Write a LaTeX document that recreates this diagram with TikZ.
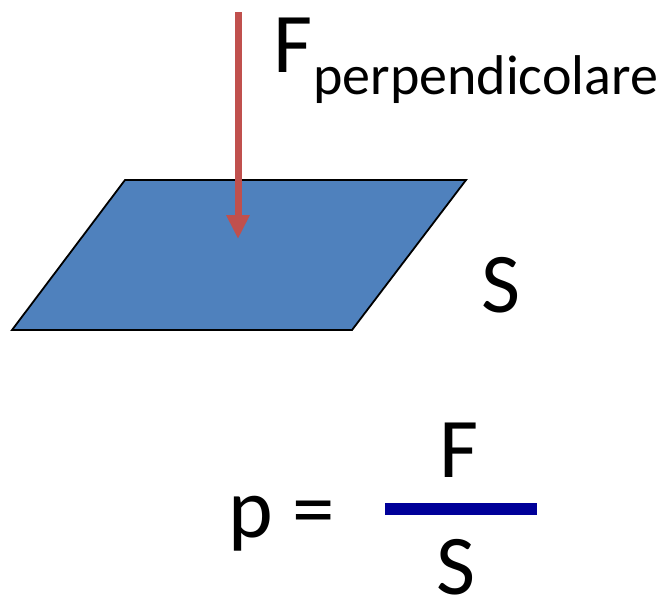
\documentclass[tikz,border=0pt]{standalone}
\usepackage{fontspec}
\setmainfont{Carlito}
\usetikzlibrary{arrows.meta}
\definecolor{planeblue}{HTML}{4F81BD}
\definecolor{forcered}{HTML}{C0504D}
\definecolor{barblue}{HTML}{000099}
\tikzset{
  bigtxt/.style={inner sep=0pt, anchor=base west, font=\fontsize{85}{100}\selectfont},
  subtxt/.style={inner sep=0pt, anchor=base west, font=\fontsize{56}{66}\selectfont},
  plane/.style={fill=planeblue, draw=black, line width=1.8pt, line join=miter},
  force/.style={draw=forcered, line width=7pt, -{Triangle[width=22pt,length=24pt]}},
  fracbar/.style={fill=barblue, draw=none}
}
\begin{document}
\begin{tikzpicture}[x=1pt,y=-1pt]
\useasboundingbox (0,0) rectangle (671,597);
\coordinate (tl) at (125,180);
\coordinate (tr) at (466,180);
\coordinate (br) at (352,330);
\coordinate (bl) at (12,330);
\draw[plane] (tl) -- (tr) -- (br) -- (bl) -- cycle;
\coordinate (ftop) at (238,12);
\coordinate (ftip) at (238,239);
\draw[force] (ftop) -- (ftip);
\node[bigtxt] (fmain) at (273,72) {F};
\node[subtxt] (fsub) at (313,94) {perpendicolare};
\node[bigtxt] (slabel) at (481,312) {S};
\node[bigtxt] (peq) at (228,537) {p =};
\coordinate (barA) at (385,503);
\coordinate (barB) at (537,515);
\fill[fracbar] (barA) rectangle (barB);
\node[bigtxt] (num) at (439,477) {F};
\node[bigtxt] (den) at (436,594) {S};
\end{tikzpicture}
\end{document}
